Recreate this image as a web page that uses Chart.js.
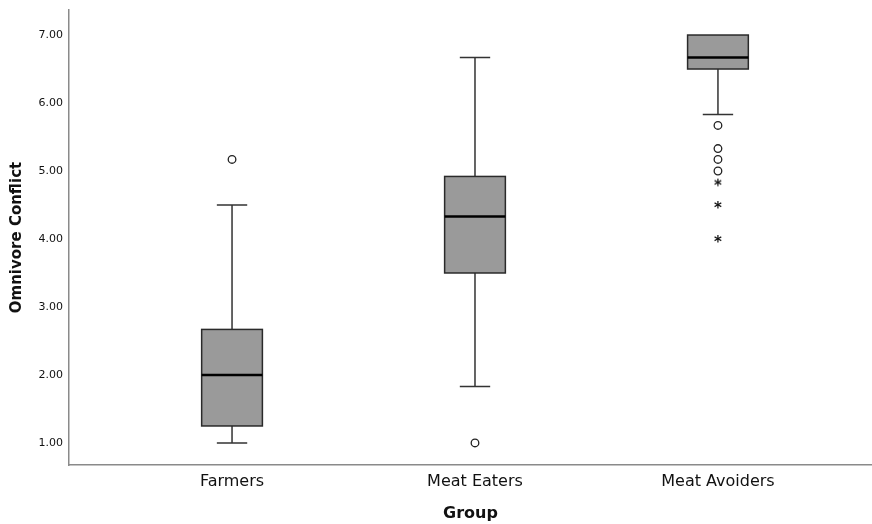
<!DOCTYPE html>
<html>
<head>
<meta charset="utf-8">
<script src="https://cdn.jsdelivr.net/npm/chart.js@4/dist/chart.umd.min.js"></script>
<style>
  html, body { margin: 0; padding: 0; background: #fff; }
  #wrap { width: 872px; height: 524px; }
</style>
</head>
<body>
<div id="wrap"><canvas id="c" width="872" height="524"></canvas></div>
<script>
// ---- data ----
const groups      = ['Farmers', 'Meat Eaters', 'Meat Avoiders']
const whiskerLow  = [1.00, 1.83, 5.83]
const q1          = [1.25, 3.50, 6.50]
const median      = [2.00, 4.33, 6.67]
const q3          = [2.67, 4.92, 7.00]
const whiskerHigh = [4.50, 6.67, 7.00]

// outliers (circle) and extremes (star): group index, value
const outlierGroup  = [0, 1, 2, 2, 2, 2]
const outlierValue  = [5.17, 1.00, 5.67, 5.33, 5.17, 5.00]
const extremeGroup  = [2, 2, 2]
const extremeValue  = [4.83, 4.50, 4.00]

const yTicks = [1, 2, 3, 4, 5, 6, 7]

// ---- box drawing (through the scales) ----
const BOX_HALF = 0.125   // in x units
const CAP_HALF = 0.0625

const boxPlugin = {
  id: 'boxes',
  beforeDatasetsDraw(chart) {
    const { ctx, scales: { x, y } } = chart
    ctx.save()
    groups.forEach((g, i) => {
      const cx = x.getPixelForValue(i + 1)
      const l  = x.getPixelForValue(i + 1 - BOX_HALF)
      const r  = x.getPixelForValue(i + 1 + BOX_HALF)
      const cl = x.getPixelForValue(i + 1 - CAP_HALF)
      const cr = x.getPixelForValue(i + 1 + CAP_HALF)
      const yQ1 = y.getPixelForValue(q1[i])
      const yQ3 = y.getPixelForValue(q3[i])
      const yMed = y.getPixelForValue(median[i])
      const yLo = y.getPixelForValue(whiskerLow[i])
      const yHi = y.getPixelForValue(whiskerHigh[i])

      // whiskers
      ctx.strokeStyle = '#333'
      ctx.lineWidth = 1.5
      ctx.beginPath()
      if (whiskerHigh[i] > q3[i]) {
        ctx.moveTo(cx, yQ3); ctx.lineTo(cx, yHi)
        ctx.moveTo(cl, yHi); ctx.lineTo(cr, yHi)
      }
      if (whiskerLow[i] < q1[i]) {
        ctx.moveTo(cx, yQ1); ctx.lineTo(cx, yLo)
        ctx.moveTo(cl, yLo); ctx.lineTo(cr, yLo)
      }
      ctx.stroke()

      // box
      ctx.fillStyle = '#9a9a9a'
      ctx.fillRect(l, yQ3, r - l, yQ1 - yQ3)
      ctx.strokeStyle = '#2a2a2a'
      ctx.lineWidth = 1.5
      ctx.strokeRect(l, yQ3, r - l, yQ1 - yQ3)

      // median
      ctx.strokeStyle = '#000'
      ctx.lineWidth = 2.4
      ctx.beginPath()
      ctx.moveTo(l, yMed); ctx.lineTo(r, yMed)
      ctx.stroke()
    })
    ctx.restore()
  }
}

// asterisk marker as a small canvas
const starMark = document.createElement('canvas')
starMark.width = 12; starMark.height = 12
{
  const c = starMark.getContext('2d')
  c.fillStyle = '#111'
  c.font = "bold 15px 'DejaVu Sans', sans-serif"
  c.textAlign = 'center'
  c.textBaseline = 'middle'
  c.fillText('*', 6, 10)
}

const FONT = "'DejaVu Sans', sans-serif"

new Chart(document.getElementById('c'), {
  type: 'scatter',
  data: {
    datasets: [
      {
        label: 'outliers',
        data: outlierGroup.map((g, i) => ({ x: g + 1, y: outlierValue[i] })),
        pointStyle: 'circle',
        pointRadius: 3.8,
        backgroundColor: '#fff',
        borderColor: '#222',
        borderWidth: 1.3,
      },
      {
        label: 'extremes',
        data: extremeGroup.map((g, i) => ({ x: g + 1, y: extremeValue[i] })),
        pointStyle: starMark,
        pointRadius: 4,
      }
    ]
  },
  options: {
    responsive: false,
    animation: false,
    events: [],
    layout: { autoPadding: false, padding: { top: 10, right: 0, left: 0, bottom: 0 } },
    plugins: { legend: { display: false }, tooltip: { enabled: false } },
    scales: {
      x: {
        type: 'linear',
        min: 0.329,
        max: 3.634,
        afterBuildTicks: s => { s.ticks = groups.map((_, i) => ({ value: i + 1 })) },
        afterFit: s => { s.height = 59 },
        ticks: {
          color: '#111',
          font: { family: FONT, size: 16 },
          padding: 7,
          maxRotation: 0,
          callback: v => groups[v - 1] ?? ''
        },
        grid: { display: false, drawTicks: false },
        border: { color: '#8a8a8a', width: 1.5 },
        title: {
          display: true, text: 'Group', color: '#111',
          font: { family: FONT, size: 16, weight: 'bold' },
          padding: { top: 0, bottom: 1 }
        }
      },
      y: {
        min: 0.676,
        max: 7.368,
        afterBuildTicks: s => { s.ticks = yTicks.map(v => ({ value: v })) },
        afterFit: s => { s.width = 69; s.paddingTop = 0; s.paddingBottom = 0 },
        ticks: {
          color: '#111',
          font: { family: FONT, size: 11 },
          padding: 6,
          callback: v => v.toFixed(2)
        },
        grid: { display: false, drawTicks: false },
        border: { color: '#8a8a8a', width: 1.5 },
        title: {
          display: true, text: 'Omnivore Conflict', color: '#111',
          font: { family: FONT, size: 15, weight: 'bold' },
          padding: { top: 8, bottom: 0 }
        }
      }
    }
  },
  plugins: [boxPlugin]
})
</script>
</body>
</html>
